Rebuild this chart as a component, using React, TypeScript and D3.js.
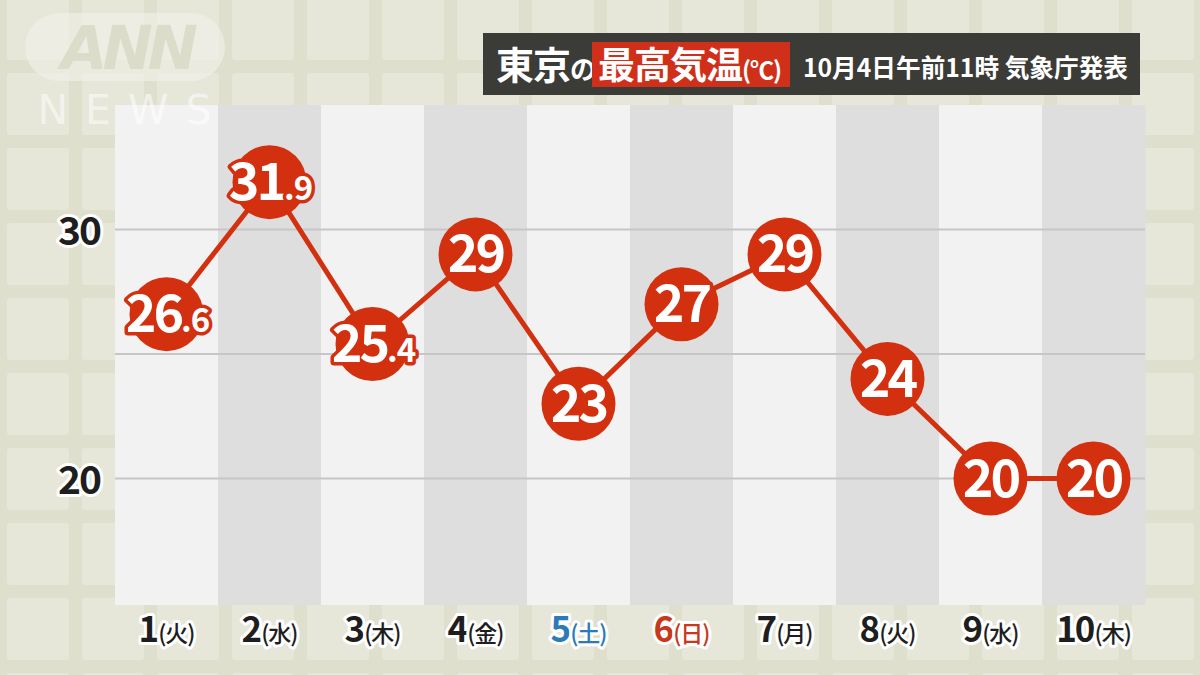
import React from "react";
import * as d3 from "d3";

const days = ["1", "2", "3", "4", "5", "6", "7", "8", "9", "10"];
const weekdays = ["火", "水", "木", "金", "土", "日", "月", "火", "水", "木"];
const highs = [26.6, 31.9, 25.4, 29, 23, 27, 29, 24, 20, 20];
const yTicks = [20, 30];
const gridValues = [20, 25, 30];

const W = 1200;
const H = 675;
const FONT = "'Noto Sans CJK JP', 'Noto Sans', sans-serif";
const RED = "#d2300f";

export default function App() {
  const x = d3.scaleBand<string>().domain(days).range([115, 1145]).padding(0);
  const y = d3.scaleLinear().domain([15, 35]).range([603, 105]);
  const cx = (i: number) => (x(days[i]) as number) + x.bandwidth() / 2;
  const line = d3
    .line<number>()
    .x((_, i) => cx(i))
    .y((d) => y(d));

  const tiles: { x: number; y: number }[] = [];
  for (let ty = -2; ty < H; ty += 75) {
    for (let tx = 7; tx < W; tx += 75) tiles.push({ x: tx, y: ty });
  }

  const dayColor = (i: number) =>
    weekdays[i] === "土" ? "#2b7bb9" : weekdays[i] === "日" ? "#c8381c" : "#1e1e1e";

  return (
    <svg
      width={W}
      height={H}
      viewBox={`0 0 ${W} ${H}`}
      style={{ position: "absolute", left: 0, top: 0, fontFamily: FONT }}
    >
      <rect x={0} y={0} width={W} height={H} fill="#dfdfce" />
      {tiles.map((t, i) => (
        <rect key={i} x={t.x} y={t.y} width={62} height={62} rx={3} fill="#e6e6d9" />
      ))}

      {/* columns */}
      {days.map((d, i) => (
        <rect
          key={d}
          x={x(d)}
          y={105}
          width={x.bandwidth() + 0.5}
          height={500}
          fill={i % 2 === 0 ? "#f2f2f2" : "#dedede"}
        />
      ))}

      {/* grid lines */}
      {gridValues.map((v) => (
        <line key={v} x1={115} x2={1145} y1={y(v)} y2={y(v)} stroke="#c6c6c6" strokeWidth={2} />
      ))}

      {/* ANN NEWS logo */}
      <g>
        <rect x={25} y={13} width={200} height={68} rx={34} fill="#f2f2ea" opacity={0.6} />
        <text
          x={127}
          y={69}
          textAnchor="middle"
          fontSize={60}
          fontWeight={700}
          fontStyle="italic"
          fill="#dcdccb"
          fontFamily="'DejaVu Sans', sans-serif"
          letterSpacing={-5}
        >
          ANN
        </text>
        <text
          x={133}
          y={124}
          textAnchor="middle"
          fontSize={41}
          fontWeight={400}
          fill="#ffffff"
          opacity={0.55}
          fontFamily="'DejaVu Sans', sans-serif"
          letterSpacing={17}
        >
          NEWS
        </text>
      </g>

      {/* y tick labels */}
      {yTicks.map((v) => (
        <text
          key={v}
          x={79}
          y={y(v) + 15}
          textAnchor="middle"
          fontSize={39}
          fontWeight={700}
          letterSpacing={-2}
          fill="#1e1e1e"
          stroke="#ffffff"
          strokeWidth={6}
          strokeLinejoin="round"
          paintOrder="stroke"
        >
          {v}
        </text>
      ))}

      {/* x labels */}
      {days.map((d, i) => (
        <text
          key={d}
          x={cx(i)}
          y={642}
          textAnchor="middle"
          fill={dayColor(i)}
          fontWeight={700}
          stroke="#ffffff"
          strokeWidth={6}
          strokeLinejoin="round"
          paintOrder="stroke"
        >
          <tspan fontSize={35} letterSpacing={-2}>{d}</tspan>
          <tspan fontSize={23} fontWeight={500} dx={1} letterSpacing={-1}>{`(${weekdays[i]})`}</tspan>
        </text>
      ))}

      {/* line */}
      <path d={line(highs) as string} fill="none" stroke={RED} strokeWidth={5} />

      {/* bubbles */}
      {highs.map((v, i) => {
        const s = String(v);
        const [ip, dp] = s.split(".");
        return (
          <g key={i}>
            <circle cx={cx(i)} cy={y(v)} r={37} fill={RED} />
            <text
              x={cx(i) + (dp !== undefined ? 1 : 0)}
              y={y(v) + 18}
              textAnchor="middle"
              fill="#ffffff"
              fontWeight={700}
              stroke={RED}
              strokeWidth={7}
              strokeLinejoin="round"
              paintOrder="stroke"
            >
              <tspan fontSize={52} letterSpacing={-3}>{ip}</tspan>
              {dp !== undefined && <tspan fontSize={33} letterSpacing={-1}>{`.${dp}`}</tspan>}
            </text>
          </g>
        );
      })}

      {/* title */}
      <rect x={483} y={33} width={657} height={62} fill="#3b3b37" />
      <text x={496} y={79} fill="#ffffff" fontWeight={700}>
        <tspan fontSize={38} letterSpacing={-1}>東京</tspan>
        <tspan fontSize={26}>の</tspan>
      </text>
      <rect x={592} y={42} width={198} height={45} fill="#d0301a" />
      <text x={598} y={79} fill="#ffffff" fontWeight={700}>
        <tspan fontSize={37} letterSpacing={-1}>最高気温</tspan>
        <tspan fontSize={24} letterSpacing={-1}>(℃)</tspan>
      </text>
      <text
        x={803}
        y={77}
        fill="#ffffff"
        fontWeight={700}
        fontSize={25}
        textLength={325}
        lengthAdjust="spacingAndGlyphs"
      >
        10月4日午前11時 気象庁発表
      </text>
    </svg>
  );
}
